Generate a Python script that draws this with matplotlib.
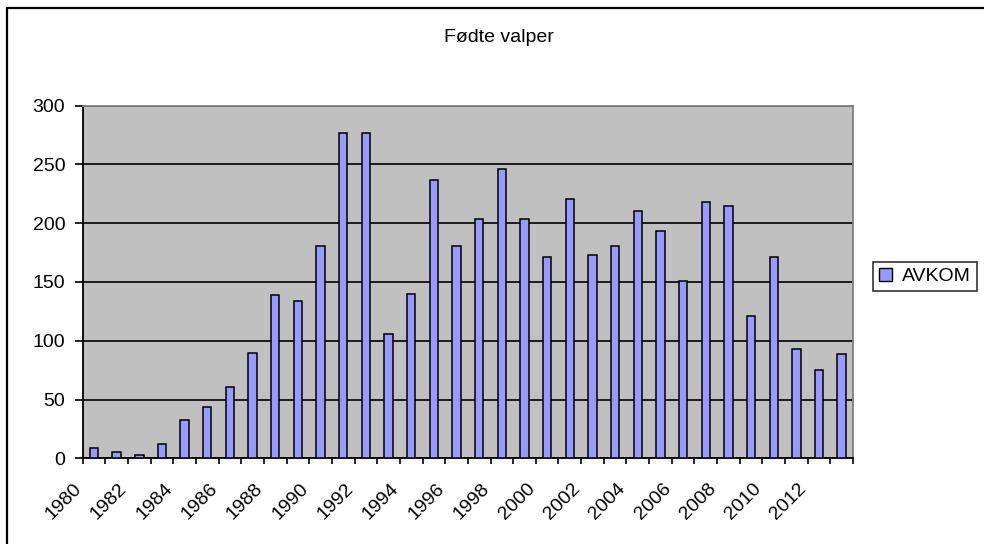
import matplotlib
matplotlib.use("Agg")
import matplotlib.pyplot as plt
import matplotlib.transforms as mtransforms
from matplotlib.patches import Rectangle, Patch

plt.rcParams['font.family'] = ['Liberation Sans', 'DejaVu Sans']

title = "Fødte valper"
series_name = "AVKOM"
years = list(range(1980, 2014))
values = [9, 5, 3, 12, 33, 44, 61, 90, 139, 134, 181, 277, 277, 106, 140, 237, 181,
          204, 246, 204, 171, 221, 173, 181, 210, 193, 151, 218, 215, 121, 171, 93, 75, 89]
label_years = list(range(1980, 2013, 2))
y_ticks = [0, 50, 100, 150, 200, 250, 300]

W, H = 984, 544
FS = 14
fig = plt.figure(figsize=(W / 100, H / 100), dpi=100)
fig.patch.set_facecolor('white')

# outer chart border (left and top visible, rest cut off)
fig.add_artist(Rectangle((7 / W, -0.1), 1.2, 1 - 8 / H + 0.1, transform=fig.transFigure,
                         fill=False, edgecolor='black', linewidth=1.6))

left, right, top, bottom = 82.7, 853, 105.7, 458.3
ax = fig.add_axes([left / W, 1 - bottom / H, (right - left) / W, (bottom - top) / H])
ax.set_facecolor('#C0C0C0')

x = list(range(len(years)))
ax.bar(x, values, width=0.37, color='#9999FF', edgecolor='black', linewidth=1.1,
       zorder=3, label=series_name)

ax.set_xlim(-0.5, len(years) - 0.5)
ax.set_ylim(0, 300)
ax.set_yticks(y_ticks)
ax.set_yticklabels([str(v) for v in y_ticks], fontsize=FS)
ax.yaxis.grid(True, color='black', linewidth=1.2, zorder=1)
ax.set_axisbelow(True)

# category boundary ticks
ax.set_xticks([i - 0.5 for i in range(len(years) + 1)])
ax.set_xticklabels([])
ax.tick_params(axis='x', which='major', direction='out', length=4.3, width=1.2, color='black')
ax.tick_params(axis='y', which='major', direction='out', length=5.5, width=1.2, pad=7,
               color='black')

# labels at category centres
ax.set_xticks([years.index(y) for y in label_years], minor=True)
ax.set_xticklabels([str(y) for y in label_years], minor=True, fontsize=FS, rotation=45,
                   ha='right', va='center', rotation_mode='anchor')
ax.tick_params(axis='x', which='minor', length=0, pad=20)
offset = mtransforms.ScaledTranslation(-15 / 100, 0, fig.dpi_scale_trans)
for lbl in ax.get_xticklabels(minor=True):
    lbl.set_transform(lbl.get_transform() + offset)

for s in ['left', 'bottom']:
    ax.spines[s].set_color('black')
    ax.spines[s].set_linewidth(1.3)
for s in ['top', 'right']:
    ax.spines[s].set_color('#808080')
    ax.spines[s].set_linewidth(1.3)

fig.text(499 / W, 1 - 37.5 / H, title, ha='center', va='center', fontsize=FS)

handle = Patch(facecolor='#9999FF', edgecolor='black', linewidth=1.0)
leg = fig.legend([handle], [series_name], loc='center left',
                 bbox_to_anchor=(873 / W, 1 - 276.5 / H), fontsize=FS, frameon=True,
                 fancybox=False, edgecolor='black', handlelength=0.7, handleheight=0.7,
                 handletextpad=0.5, borderpad=0.3, borderaxespad=0)
leg.get_frame().set_linewidth(1.2)

fig.savefig('out.png', dpi=100)
